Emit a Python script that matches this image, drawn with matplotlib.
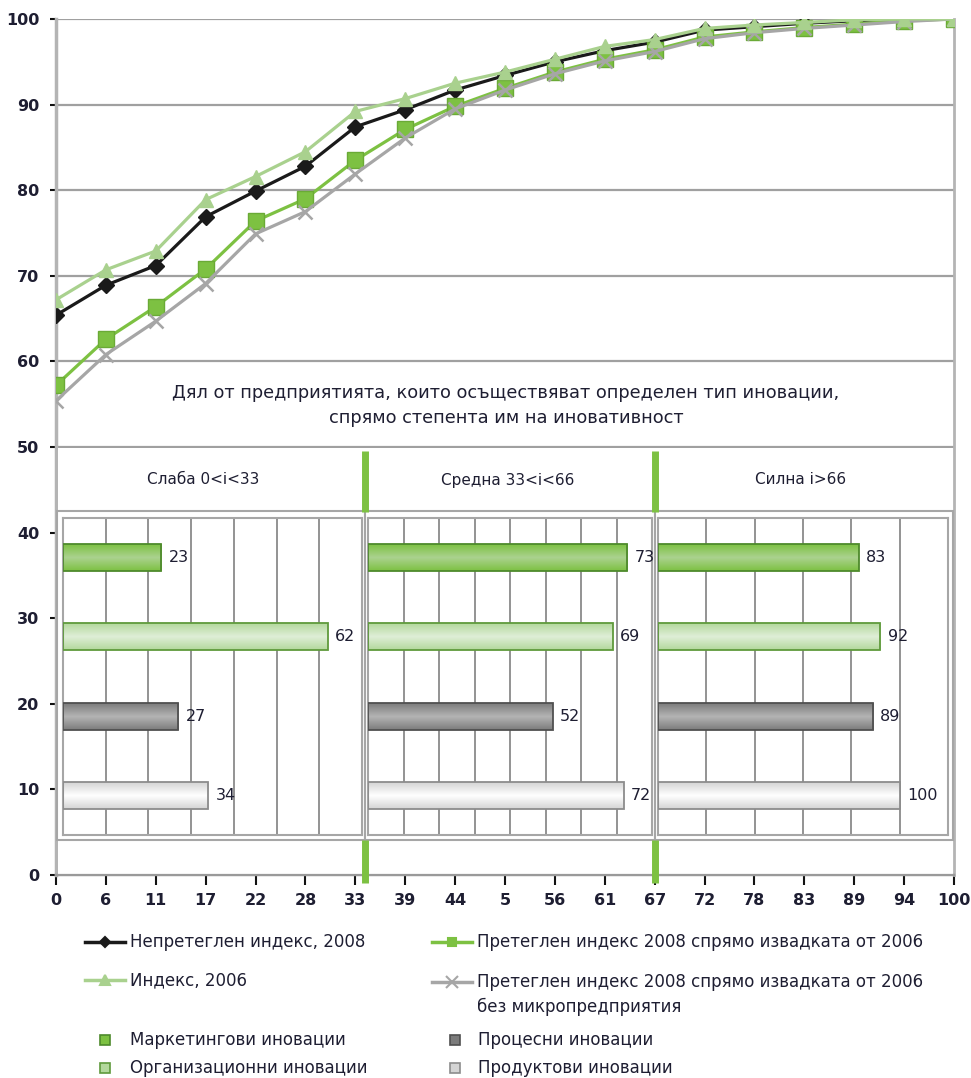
import numpy as np
import matplotlib
matplotlib.use('Agg')
import matplotlib.pyplot as plt
from matplotlib.lines import Line2D
from matplotlib.patches import Rectangle
from matplotlib.colors import LinearSegmentedColormap

plt.rcParams['font.family'] = ['DejaVu Sans']

# x categories (percent of enterprises, cumulative)
x_labels = ['0', '6', '11', '17', '22', '28', '33', '39', '44', '5', '56', '61',
            '67', '72', '78', '83', '89', '94', '100']

unweighted_2008 = [65.4, 68.9, 71.2, 76.9, 79.9, 82.8, 87.4, 89.4, 91.7, 93.4,
                   95.0, 96.3, 97.3, 98.7, 99.1, 99.5, 99.8, 100, 100]
index_2006 = [67.2, 70.7, 72.9, 78.9, 81.6, 84.5, 89.2, 90.7, 92.5, 93.8,
              95.3, 96.8, 97.6, 98.9, 99.3, 99.6, 99.9, 100, 100]
weighted_2008 = [57.2, 62.6, 66.4, 70.8, 76.4, 79.0, 83.5, 87.1, 89.8, 91.9,
                 93.8, 95.3, 96.4, 97.9, 98.5, 99.0, 99.4, 99.8, 100]
weighted_no_micro = [55.4, 60.8, 64.7, 69.1, 74.9, 77.5, 81.9, 86.1, 89.5, 91.7,
                     93.6, 95.1, 96.2, 97.7, 98.4, 98.9, 99.3, 99.7, 100]

# bar panels: order bottom -> top
bar_types = ['Продуктови иновации', 'Процесни иновации',
             'Организационни иновации', 'Маркетингови иновации']
weak = [34, 27, 62, 23]
medium = [72, 52, 69, 73]
strong = [100, 89, 92, 83]

bar_edge = ['#8c8c8c', '#505050', '#5f9a3c', '#4e8a2c']
bar_outer = ['#d4d4d4', '#7c7c7c', '#b3d89c', '#7dc142']
bar_mid = ['#ffffff', '#b4b4b4', '#dfeed7', '#abd28f']

W, H = 971, 1078
fig = plt.figure(figsize=(W / 100, H / 100), dpi=100)


def fx(px):
    return px / W


def fy(py):
    return 1 - py / H


def rect(x0, y0, x1, y1):
    return [fx(x0), fy(y1), fx(x1) - fx(x0), fy(y0) - fy(y1)]


txt = '#1e1e32'

ax = fig.add_axes(rect(56, 19, 954, 875))
xs = np.arange(len(x_labels))
ax.plot(xs, unweighted_2008, color='#1a1a1a', lw=2.3, marker='D', ms=8,
        mfc='#1a1a1a', mec='#1a1a1a', zorder=3)
ax.plot(xs, weighted_2008, color='#7dc142', lw=2.3, marker='s', ms=11,
        mfc='#7dc142', mec='#6aaa36', zorder=4)
ax.plot(xs, weighted_no_micro, color='#a6a6a6', lw=2.3, marker='x', ms=10,
        mew=1.8, zorder=5)
ax.plot(xs, index_2006, color='#a9d18e', lw=2.3, marker='^', ms=10,
        mfc='#a9d18e', mec='#a9d18e', zorder=6)

ax.set_xlim(0, len(x_labels) - 1)
ax.set_ylim(0, 100)
ax.set_yticks(range(0, 101, 10))
ax.set_xticks(xs)
ax.set_xticklabels(x_labels)
ax.yaxis.grid(True, color='#a0a0a0', lw=1.6)
ax.set_axisbelow(True)
ax.tick_params(axis='both', colors='#111111', labelcolor=txt, labelsize=11.5,
               width=1.5)
ax.tick_params(axis='x', length=7, direction='out', pad=6)
ax.tick_params(axis='y', length=4, direction='out', pad=8)
for lab in ax.get_xticklabels() + ax.get_yticklabels():
    lab.set_fontweight('semibold')
ax.spines['top'].set_visible(False)
ax.spines['left'].set_color('#b4b4b4')
ax.spines['left'].set_linewidth(2.5)
ax.spines['right'].set_color('#b4b4b4')
ax.spines['right'].set_linewidth(2)
ax.spines['bottom'].set_color('#9a9a9a')
ax.spines['bottom'].set_linewidth(1.6)

# white area behind the panels
fig.add_artist(Rectangle((fx(57.5), fy(875)), fx(953) - fx(57.5), fy(448) - fy(875),
                         transform=fig.transFigure, facecolor='white',
                         edgecolor='none', zorder=1))
fig.add_artist(Line2D([fx(56), fx(954)], [fy(875), fy(875)],
                      transform=fig.transFigure, color='#9a9a9a', lw=1.6, zorder=1.1))

outer = [(57, 365), (365, 655), (655, 953)]
for x0, x1 in outer:
    fig.add_artist(Rectangle((fx(x0), fy(840)), fx(x1) - fx(x0), fy(511) - fy(840),
                             transform=fig.transFigure, facecolor='white',
                             edgecolor='#a6a6a6', lw=1.5, zorder=1.2))

# green dividers
for gx in (365, 655):
    for y0, y1 in ((451, 512), (840, 883)):
        fig.add_artist(Line2D([fx(gx), fx(gx)], [fy(y0), fy(y1)],
                              transform=fig.transFigure, color='#7dc142',
                              lw=5, solid_capstyle='butt', zorder=3))

fig.text(fx(506), fy(393), 'Дял от предприятията, които осъществяват определен тип иновации,',
         ha='center', va='center', fontsize=12.8, color=txt)
fig.text(fx(506), fy(418), 'спрямо степента им на иновативност',
         ha='center', va='center', fontsize=12.8, color=txt)
for cx, lab in ((203, 'Слаба 0<i<33'), (508, 'Средна 33<i<66'), (801, 'Силна i>66')):
    fig.text(fx(cx), fy(480), lab, ha='center', va='center', fontsize=11, color=txt)

panels = [((63, 362), weak, 70, 10), ((368, 652), medium, 80, 10),
          ((658, 948), strong, 120, 20)]
prof = (1 - np.abs(np.linspace(-1, 1, 64)))[:, None]
ys = np.arange(len(bar_types))
for (x0, x1), vals, xmax, step in panels:
    bx = fig.add_axes(rect(x0, 518, x1, 835), zorder=2)
    bars = bx.barh(ys, vals, height=0.34, facecolor='none', edgecolor=bar_edge,
                   lw=1.3, zorder=3)
    for b, c1, c2 in zip(bars, bar_outer, bar_mid):
        cmap = LinearSegmentedColormap.from_list('g', [c1, c2])
        bb = b.get_bbox()
        im = bx.imshow(prof, extent=(bb.x0, bb.x1, bb.y0, bb.y1), aspect='auto',
                       cmap=cmap, vmin=0, vmax=1, zorder=2, interpolation='bilinear')
        im.set_clip_path(b)
    for y, v in zip(ys, vals):
        bx.text(v + xmax * 0.025, y, str(v), va='center', ha='left',
                fontsize=11.5, color=txt)
    bx.set_xlim(0, xmax)
    bx.set_ylim(-0.5, len(bar_types) - 0.5)
    bx.set_xticks(np.arange(step, xmax, step))
    bx.set_yticks([])
    bx.tick_params(axis='x', length=0, labelbottom=False)
    bx.xaxis.grid(True, color='#8a8a8a', lw=1.3)
    bx.set_axisbelow(True)
    for s in bx.spines.values():
        s.set_color('#a6a6a6')
        s.set_linewidth(1.5)

# legend
line_items = [
    (85, 942, '#1a1a1a', 'D', 5, 'Непретеглен индекс, 2008'),
    (85, 980, '#a9d18e', '^', 7, 'Индекс, 2006'),
    (432, 942, '#7dc142', 's', 6, 'Претеглен индекс 2008 спрямо извадката от 2006'),
    (432, 982, '#a6a6a6', 'x', 9, 'Претеглен индекс 2008 спрямо извадката от 2006\nбез микропредприятия'),
]
for lx, ly, c, m, ms, lab in line_items:
    fig.add_artist(Line2D([fx(lx), fx(lx + 20), fx(lx + 40)], [fy(ly)] * 3,
                          transform=fig.transFigure, color=c, lw=2.5, marker=m,
                          ms=ms, markevery=[1], mfc=c, mec=c, mew=1.5))
    fig.text(fx(lx + 45), fy(ly - 9), lab, ha='left', va='top', fontsize=12,
             color=txt, linespacing=1.45)

sq_items = [(105, 1040, 3), (105, 1068, 2), (455, 1040, 1), (455, 1068, 0)]
for sx, sy, i in sq_items:
    fig.add_artist(Line2D([fx(sx)], [fy(sy)], transform=fig.transFigure,
                          marker='s', ms=7, mfc=bar_outer[i], mec=bar_edge[i],
                          mew=1.2, lw=0))
    fig.text(fx(sx + 25 if sx < 200 else sx + 23), fy(sy), bar_types[i],
             ha='left', va='center', fontsize=12, color=txt)

fig.savefig('out.png', dpi=100)
